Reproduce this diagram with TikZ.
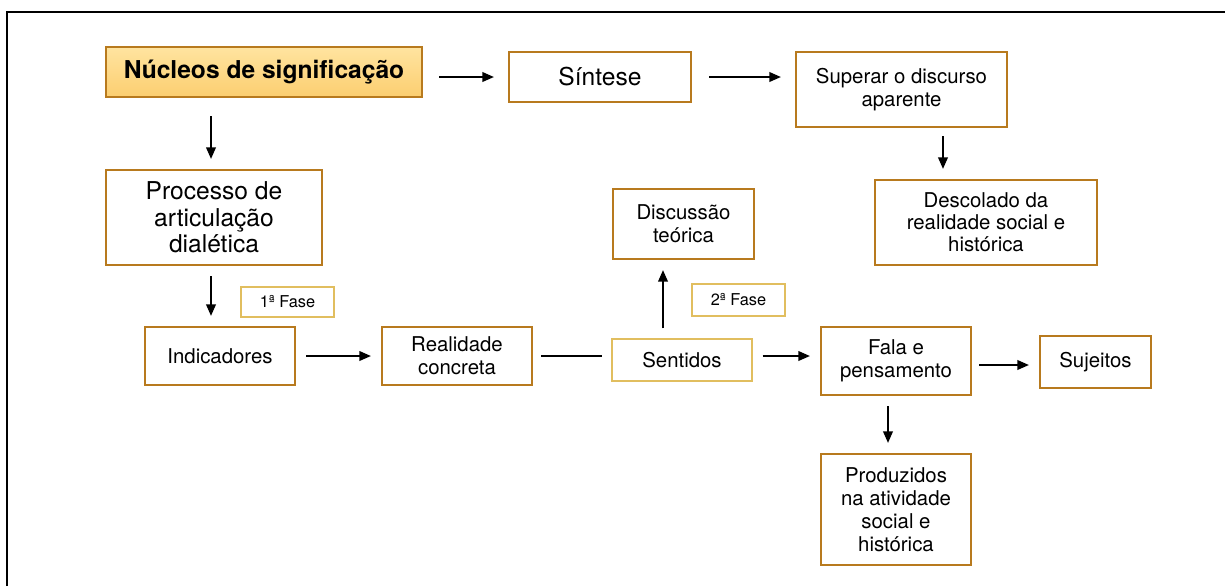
\documentclass[tikz,border=0pt]{standalone}
\usepackage{xcolor}
\usepackage{fontspec}
\setmainfont{TeX Gyre Heros}
\usepackage{tikz}
\usetikzlibrary{arrows.meta,shapes,backgrounds}
\definecolor{boxC}{RGB}{184,122,30}
\definecolor{faseC}{RGB}{225,190,95}
\definecolor{topC}{RGB}{255,228,160}
\definecolor{botC}{RGB}{252,206,112}

\begin{document}
\begin{tikzpicture}[x=0.02cm,y=-0.02cm,
        box/.style={draw=boxC,line width=1.3pt,align=center,inner sep=2pt,font=\fontsize{11.6}{13}\selectfont},
        bigbox/.style={box,font=\fontsize{14}{15.2}\selectfont},
        thinbox/.style={draw=faseC,line width=0.7pt,align=center,inner sep=2pt},
        arr/.style={-{Triangle[length=6.5pt,width=5.5pt]},line width=0.8pt,shorten <=0.2cm,shorten >=0.2cm}]
        \newcommand\boxSize[2]{minimum width=#1*0.02cm,minimum height=#2*0.02cm}
        \useasboundingbox (0,0) rectangle (1225,586);
        \draw[line width=1.4pt] (7,586) -- (7,12) -- (1225,12);
        % first row
        \node[bigbox,top color=topC,bottom color=botC,font=\fontsize{14}{15}\selectfont\bfseries,minimum width=6.32cm,minimum height=1cm] (nucleos) at (264,72) {Núcleos de significação};
        \node[bigbox,minimum width=3.64cm,minimum height=1cm] (sintese) at (600,77) {Síntese};
        \node[box,minimum width=4.22cm,minimum height=1.5cm] (superar) at (901.5,89.5) {Superar o discurso\\aparente};
        % second row
        \node[bigbox,minimum width=4.32cm,minimum height=1.9cm] (processo) at (214,217.5) {Processo de\\articulação\\dialética};
        \node[box,minimum width=2.82cm,minimum height=1.4cm] (discussao) at (683.5,224) {Discussão\\teórica};
        \node[box,font=\fontsize{11.6}{12.5}\selectfont,minimum width=4.44cm,minimum height=1.7cm] (descolado) at (986,222.5) {Descolado da\\realidade social e\\histórica};
        \node[thinbox,font=\fontsize{9.3}{11}\selectfont,minimum width=1.86cm,minimum height=0.6cm] (fase1) at (287.5,302) {1ª Fase};
        \node[thinbox,font=\fontsize{9.3}{11}\selectfont,minimum width=1.86cm,minimum height=0.64cm] (fase2) at (738.5,300) {2ª Fase};
        % third row
        \node[box,minimum width=3cm,minimum height=1.16cm] (indicadores) at (220,356) {Indicadores};
        \node[box,minimum width=3cm,minimum height=1.16cm] (realidade) at (457,356) {Realidade\\concreta};
        \node[thinbox,font=\fontsize{11.6}{13}\selectfont,minimum width=2.8cm,minimum height=0.84cm] (sentidos) at (682,360) {Sentidos};
        \node[box,minimum width=3cm,minimum height=1.36cm] (fala) at (896,361) {Fala e\\pensamento};
        \node[box,minimum width=2.22cm,minimum height=1.04cm] (sujeitos) at (1095.5,362) {Sujeitos};
        \node[box,minimum width=3cm,minimum height=2.22cm] (produzidos) at (896,509.5) {Produzidos\\na atividade\\social e\\histórica};
        % connectors
        \draw[arr,shorten <=0.32cm,shorten >=0.28cm] (nucleos.east |- sintese.west) -- (sintese.west);
        \draw[arr,shorten <=0.34cm,shorten >=0.28cm] (sintese.east) -- (sintese.east -| superar.west);
        \draw[arr,shorten <=0.36cm] ([xshift=-1.06cm]nucleos.south) -- ([xshift=-1.06cm]nucleos.south |- processo.north);
        \draw[arr,shorten <=0.16cm] ([xshift=0.83cm]superar.south) -- ([xshift=0.83cm]superar.south |- descolado.north);
        \draw[arr] ([xshift=-0.06cm]processo.south) -- ([xshift=-0.06cm]processo.south |- indicadores.north);
        \draw[arr] (indicadores.east) -- (realidade.west);
        \draw[line width=0.8pt,shorten <=0.16cm,shorten >=0.18cm] (realidade.east) -- (realidade.east -| sentidos.west);
        \draw[arr] ([xshift=-0.38cm]sentidos.north) -- ([xshift=-0.38cm]sentidos.north |- discussao.south);
        \draw[arr] ([yshift=0.08cm]sentidos.east) -- ([yshift=0.08cm]sentidos.east -| fala.west);
        \draw[arr,shorten <=0.14cm] ([yshift=-0.08cm]fala.east) -- ([yshift=-0.08cm]fala.east -| sujeitos.west);
        \draw[arr] ([xshift=-0.16cm]fala.south) -- ([xshift=-0.16cm]fala.south |- produzidos.north);
\end{tikzpicture}
\end{document}
